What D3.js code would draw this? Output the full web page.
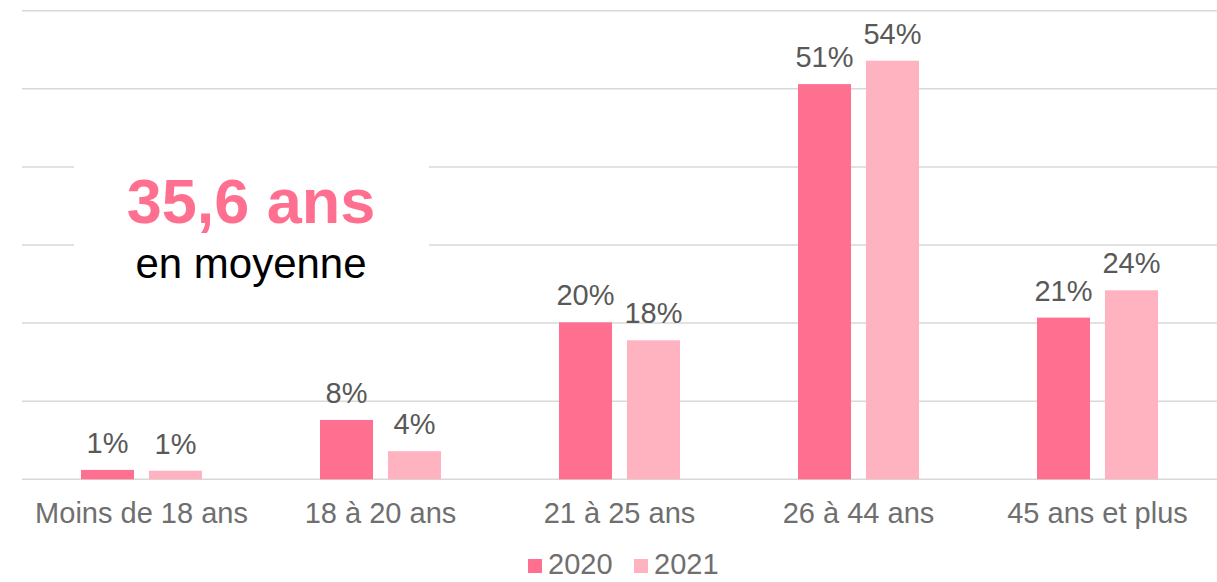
<!DOCTYPE html>
<meta charset="utf-8">
<style>
body{
  margin: 0;
  background: white;
  font-family: Arial, "Liberation Sans", sans-serif;
}
svg{
  display: block;
}
.grid line{
  stroke: #d9d9d9;
  stroke-width: 1.5px;
}
.cat text{
  fill: #6f6f6f;
  font-size: 29px;
}
.val{
  fill: #595959;
  font-size: 29px;
  text-anchor: middle;
}
</style>
<div id="chart"></div>
<script src="https://cdn.jsdelivr.net/npm/d3@7"></script>
<script>
var categories = ['Moins de 18 ans', '18 à 20 ans', '21 à 25 ans', '26 à 44 ans', '45 ans et plus']
var series = ['2020', '2021']
var values2020 = [1.2, 7.6, 20.1, 50.6, 20.7]
var values2021 = [1.1, 3.6, 17.8, 53.6, 24.2]
var yTicks = [0, 10, 20, 30, 40, 50, 60]
var colors = ['#ff7090', '#ffb3c1']

var width = 1217, height = 582

var svg = d3.select('#chart').append('svg')
    .attr('width', width)
    .attr('height', height)

var x0 = d3.scaleBand().domain(categories).range([22, 1217])
var x1 = d3.scaleBand().domain(series).range([59, 180]).paddingInner(0.22)
var y = d3.scaleLinear().domain([0, 60]).range([479.3, 10.7])

// gridlines
svg.append('g').attr('class', 'grid')
  .selectAll('line').data(yTicks).enter().append('line')
    .attr('x1', 22).attr('x2', width)
    .attr('y1', d => y(d)).attr('y2', d => y(d))

// white box behind the average
svg.append('rect')
    .attr('x', 74).attr('y', 130)
    .attr('width', 355).attr('height', 165)
    .attr('fill', 'white')

svg.append('text')
    .attr('x', 251).attr('y', 223)
    .attr('text-anchor', 'middle')
    .attr('font-weight', 'bold')
    .attr('font-size', '63px')
    .attr('fill', '#ff7090')
    .text('35,6 ans')

svg.append('text')
    .attr('x', 251).attr('y', 278)
    .attr('text-anchor', 'middle')
    .attr('font-size', '42px')
    .attr('fill', '#000')
    .text('en moyenne')

var rows = categories.map(function(c, i){
  return {cat: c, vals: [values2020[i], values2021[i]]}
})

var fmt = d3.format('.0f')

var groups = svg.selectAll('.group').data(rows).enter().append('g')
    .attr('transform', d => 'translate(' + x0(d.cat) + ',0)')

groups.selectAll('rect').data(d => d.vals).enter().append('rect')
    .attr('x', (d, i) => x1(series[i]))
    .attr('width', x1.bandwidth())
    .attr('y', d => y(d))
    .attr('height', d => y(0) - y(d))
    .attr('fill', (d, i) => colors[i])

groups.selectAll('.val').data(d => d.vals).enter().append('text')
    .attr('class', 'val')
    .attr('x', (d, i) => x1(series[i]) + x1.bandwidth() / 2)
    .attr('y', d => y(d) - 17)
    .text(d => fmt(d) + '%')

// category axis
var xAxis = svg.append('g').attr('class', 'cat')
    .attr('transform', 'translate(0,' + y(0) + ')')
    .call(d3.axisBottom(x0).tickSize(0).tickPadding(0))
xAxis.select('.domain').remove()
xAxis.selectAll('text').attr('dy', 0).attr('y', 44)

// legend
var legend = svg.append('g')
var lx = [528, 634]
series.forEach(function(s, i){
  legend.append('rect')
      .attr('x', lx[i]).attr('y', 559)
      .attr('width', 14).attr('height', 14)
      .attr('fill', colors[i])
  legend.append('text')
      .attr('x', lx[i] + 20).attr('y', 574)
      .attr('font-size', '29px')
      .attr('fill', '#6f6f6f')
      .text(s)
})
</script>
